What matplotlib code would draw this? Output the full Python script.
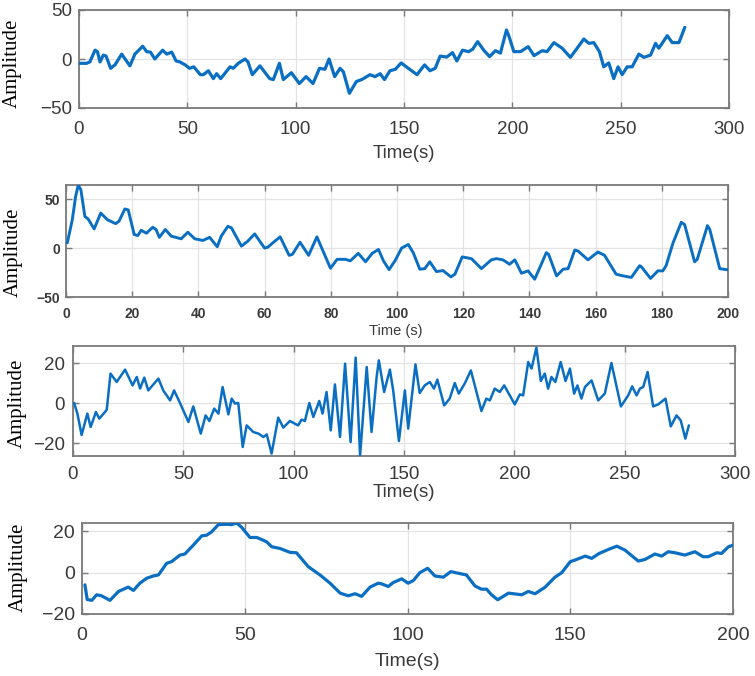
import matplotlib
matplotlib.use("Agg")
import matplotlib.pyplot as plt

# ---------------- data ----------------
t1 = [0, 3.5, 5, 7.4, 8.5, 9.7, 11.2, 12.5, 14.6, 16.6, 19.7, 23.5, 25.8, 29.4, 31.2, 33, 35, 38.6, 40.5,
      42.8, 44.8, 46.6, 49, 51, 53, 56, 57.4, 59.7, 62, 63.5, 65.4, 69.7, 71.2, 73.5, 76.6, 78, 80, 83.5,
      88, 89.7, 92.5, 94.3, 98, 101.7, 104.8, 108, 111, 113.5, 115.4, 118, 120.5, 122, 124.8, 128, 130.5,
      134.3, 136.6, 139, 141, 143.5, 146, 148.7, 152, 156, 159.5, 162, 164.4, 166.7, 169.7, 172.4, 174.4,
      177, 179.8, 181.7, 184, 186.8, 189.5, 192.2, 194.5, 197.3, 198.4, 200.7, 203.8, 207.3, 210, 213.8,
      216, 219.2, 223, 226.8, 229.9, 233, 235.3, 237.6, 240.2, 242.2, 244.5, 246.8, 248.8, 250.7, 253,
      255.3, 258.4, 260.7, 263.8, 266.1, 267.6, 271.5, 273.8, 276.9, 279.6]
a1 = [-4.4, -4.4, -3, 9, 7.5, -3, 4, 3, -9.5, -6, 5, -7, 5, 13, 7.5, 7, 0, 9, 5,
      7, -2, -3, -6, -9.5, -8, -16, -16, -12, -20, -15, -20, -8, -9.5, -4.4, 0, -3, -16, -7,
      -20, -21, -4.4, -21, -14, -25, -18, -25, -9.5, -10.5, 0, -18, -9.5, -13, -35, -23, -21,
      -16, -18, -15, -21, -12, -10.5, -4, -9.5, -16, -6, -12, -9.5, 3, 2, 6.5, -2,
      9, 7.5, 10, 17.7, 9, 2.4, 8.5, 6, 29.6, 23.5, 7.5, 7.5, 12.6, 3.4, 8.5,
      7.5, 16.7, 11, 1.7, 11, 20.4, 16, 16.7, 7.5, -8, -4, -20, -8, -16, -8,
      -8, 5, 1.7, 4, 16, 11, 23.8, 16.7, 16.7, 32.3]

t2 = [0.4, 1.9, 2.9, 3.7, 4.5, 5.7, 6.7, 8.5, 10.5, 12.5, 15, 16, 17.8, 18.8, 20.6, 21.7, 22.7, 24.3,
      26.2, 27.2, 28.2, 30, 31.8, 34.8, 36.8, 38.9, 41.4, 43.4, 45.7, 46.9, 48.9, 50, 53, 54.9, 57, 60,
      61, 62.7, 64.7, 67.4, 68.4, 70.7, 73.3, 75.8, 79.9, 81.9, 84.4, 85.9, 88.3, 90.5, 92.5, 94.4, 95.9,
      97.6, 99.4, 101.4, 103.4, 104.9, 106.9, 108.4, 109.9, 111.9, 113.9, 116.3, 117.5, 119.7, 122.5,
      125.5, 128.5, 130, 132, 134, 135.6, 137.6, 139.6, 141.6, 143.4, 145.1, 145.8, 148.2, 150.2, 151.7,
      153.7, 154.7, 157.7, 160.7, 162.7, 166.2, 168.3, 170.8, 173.3, 173.8, 176.6, 178.8, 180.3, 181.3,
      183.4, 185.9, 186.9, 189.9, 190.7, 193.8, 194.5, 197.5, 199.5, 200]
a2 = [5.4, 29, 52.7, 64.5, 59.5, 32.4, 29.7, 19.6, 35.8, 29, 25, 27.4, 40, 39, 13.9, 12.8, 18.2, 15.2,
      21.3, 19, 11, 19, 12.2, 9.5, 16.2, 9.5, 7.8, 11, 1.4, 12.2, 22.3, 20.6, 2, 7, 14.5, 0,
      1, 6, 11.5, -7.4, -6.4, 6, -7.4, 11.5, -20.6, -11.5, -11.5, -13, -5.4, -14, -5.4, -1.4, -13,
      -22, -13, 0, 3.7, -4.7, -21.6, -21, -14, -24, -23, -29.4, -26.7, -9, -10.8,
      -21, -12, -10.8, -12, -16.5, -12, -25.7, -23.3, -31.8, -18, -4.7, -6.4, -28.4, -21.6, -21,
      -2, -3, -12, -4, -7.4, -26.7, -28.4, -30, -18, -19, -31, -23.3, -23.3, -18,
      5.4, 26.4, 24, -14, -11.5, 23, 19, -21, -22, -22]

t3 = [0.5, 2, 3.9, 6.5, 8, 10.4, 11.9, 14.5, 15.3, 17, 19.8, 23.6, 27, 28.9, 30.4, 32.3, 34.1, 38.7,
      40.9, 44, 45.8, 48.5, 52.3, 54.5, 57.9, 60.1, 61.8, 64, 65.9, 67.8, 70.4, 71.9, 73.4, 74.9, 76.9,
      78.7, 81.7, 84, 86.3, 87.8, 90, 93, 95.3, 98.3, 102, 103.6, 105.1, 107.1, 108.9, 111.6, 113.1,
      114.9, 116.8, 118.7, 121, 123.3, 125.8, 128.1, 130.1, 133.1, 135.3, 137.6, 138.6, 141, 143.6,
      145.1, 147.7, 150.4, 151.9, 155.2, 157.1, 159.4, 161.7, 163.6, 165.1, 168.2, 170.7, 173, 174.8,
      177.5, 180.3, 185.1, 187.3, 188.9, 191.1, 193.4, 195.4, 200.2, 202.5, 204, 206.3, 207.8, 210,
      212, 213.8, 215.3, 216.8, 218.6, 221, 223.2, 225.2, 227.1, 228.6, 230.4, 232, 235, 238, 241,
      244, 248.3, 251.6, 253.4, 255.4, 256.9, 258.4, 260.4, 262.9, 265.2, 268.5, 270.9, 273.5, 275.4,
      277.5, 279.1]
a3 = [0, -5.3, -16, -5.3, -12, -4.5, -7.8, -4.5, -3.3, 14.7, 10.5, 16.7, 8.8, 13, 7.2, 12.7, 6.3, 12.2,
      6.3, 1.3, 6.3, 0, -9.5, -1.7, -15.3, -6.2, -9, -2.8, -5.3, 8, -5.7, 2.2, -0.3, 0, -22,
      -11.2, -14.5, -15.3, -17, -15.7, -25.3, -7.3, -12.3, -9, -11.2, -8.3, -9, 0, -7, 1, -5.3,
      5.5, -13.7, 9.3, -17, 19.7, -19.5, 22.7, -26.2, 18, -14.5, 13, 21.3, 5.5, 16.7,
      6.3, -19, 6.3, -12.8, 19.3, 5, 8.8, 10.5, 7.2, 11.7, -1.2, 2.2, 10, 4.7,
      9.7, 16.3, -4, 2.2, 1.3, 7.2, 5.5, 8.8, -0.7, 4.3, 3.8, 20.5, 17.2, 27.7,
      11, 14.7, 7.2, 13, 10.5, 20.5, 11, 17.2, 4.7, 8.8, 2.2, 8, 11.3, 1.3, 4.7,
      20, -1.7, 3.8, 8.3, 3.8, 7.2, 8, 15.5, -1.7, -0.7, 2.2, -11.7, -6.2, -8.7,
      -17.8, -11.2]

t4 = [0.9, 1.6, 3, 4.5, 6, 8.6, 11.2, 14.2, 15.8, 17.8, 19.9, 21.9, 23.5, 26, 27.5, 30.1, 31.6, 34.2,
      36.8, 38.3, 39.8, 41.9, 44.4, 46, 47.5, 49, 51.6, 53.7, 55.2, 56.7, 58.3, 60.8, 63.9, 65.9, 69.5,
      73.1, 76.2, 79.3, 81.8, 83.9, 85.9, 88.5, 91, 92, 94.1, 95.6, 98.2, 100.2, 101.8, 103.8, 106.2,
      108.4, 111, 113.3, 115.6, 118.1, 120.7, 122.7, 124.3, 125.8, 127.7, 129.4, 131, 135.1, 137.1,
      139.2, 142.3, 145.3, 147.4, 150, 152, 154.6, 156.6, 158.9, 161.7, 164.3, 166.8, 170.9, 173, 176,
      178.1, 180.1, 182.2, 185.2, 188.3, 190.8, 192.4, 195, 196.5, 198.6, 200]
a4 = [-5.9, -13, -13.4, -10.7, -11.2, -13.4, -9.1, -7, -8.6, -5.1, -2.7, -1.6, -1.1, 4.5, 5.3, 8.5, 9, 13.3,
      17.8, 18.1, 19.7, 23.2, 23.4, 23.2, 24, 22, 17, 17, 16, 14.9, 12.5, 11.7, 9.8, 9.6, 2.9,
      -1.1, -5.1, -9.9, -11.2, -10.2, -11.5, -7, -5.1, -5.4, -6.7, -4.8, -3, -5.1, -3.8, 0, 2.1,
      -1.6, -2.2, 0.5, -0.3, -1.1, -6.4, -8, -8, -10.7, -13.1, -11.5, -9.9, -10.7, -9.1,
      -10.2, -7, -2.2, 0, 5.3, 6.4, 8, 6.9, 9.3, 11.2, 12.8, 10.9, 5.6, 6.4, 9,
      8, 10.1, 9.6, 8.5, 10.1, 7.7, 7.7, 9.6, 9.3, 12.5, 13.3]

# ---------------- styling ----------------
W, H = 755, 676
fig = plt.figure(figsize=(W / 100, H / 100), dpi=100)

LINE = '#0a6fc2'
TXT = '#3a3a3a'
SPINE = '#7a7a7a'
GRID = '#e3e3e3'


def px_axes(l, t, r, b):
    return fig.add_axes([l / W, 1 - b / H, (r - l) / W, (b - t) / H])


def style(ax, xs, ys, xt, yt, xlim, ylim, fs, bold, lw, xlab, xlab_pos, xlab_fs, ylab_pos, xpad, ypad):
    ax.plot(xs, ys, color=LINE, lw=lw, solid_joinstyle='round',
            solid_capstyle='round', zorder=3)
    ax.set_xlim(*xlim)
    ax.set_ylim(*ylim)
    ax.set_xticks(xt)
    ax.set_yticks(yt)
    ax.grid(True, color=GRID, lw=0.9, zorder=0)
    ax.set_axisbelow(True)
    for s in ax.spines.values():
        s.set_color(SPINE)
        s.set_linewidth(1.3)
    weight = 'bold' if bold else 'normal'
    ax.tick_params(axis='both', direction='in', length=4, width=1.0, color=SPINE,
                   top=True, right=True, labelcolor=TXT, labelsize=fs)
    ax.tick_params(axis='x', pad=xpad)
    ax.tick_params(axis='y', pad=ypad)
    for lab in ax.get_xticklabels() + ax.get_yticklabels():
        lab.set_fontfamily('Liberation Sans')
        lab.set_fontweight(weight)
    ax.set_xlabel(xlab, fontfamily='Liberation Sans', fontsize=xlab_fs, color=TXT, va='center')
    ax.xaxis.set_label_coords(*xlab_pos)
    ax.set_ylabel('Amplitude', fontfamily='Liberation Serif', fontsize=15, color='black', va='center')
    ax.yaxis.set_label_coords(*ylab_pos)


ax1 = px_axes(79, 10, 729, 108)
ax2 = px_axes(66, 185, 728, 297)
ax3 = px_axes(73, 346, 735, 456)
ax4 = px_axes(82, 523, 733, 614)

style(ax1, t1, a1, range(0, 301, 50), [-50, 0, 50], (0, 300), (-50, 50), 13.5, False, 2.3,
      'Time(s)', (0.5, -0.46), 13.5, (-0.102, 0.46), 9, 5)
style(ax2, t2, a2, range(0, 201, 20), [-50, 0, 50], (0, 200), (-50, 64.5), 10, True, 2.1,
      'Time (s)', (0.4985, -0.304), 10.5, (-0.080, 0.40), 7, 4)
style(ax3, t3, a3, range(0, 301, 50), [-20, 0, 20], (0, 300), (-26.5, 28.5), 13.5, False, 1.8,
      'Time(s)', (0.5, -0.336), 13.5, (-0.0846, 0.48), 7, 6)
style(ax4, t4, a4, range(0, 201, 50), [-20, 0, 20], (0, 200), (-20, 24), 14, False, 2.3,
      'Time(s)', (0.5, -0.527), 14, (-0.0975, 0.516), 9, 5)

fig.savefig('out.png', dpi=100)
